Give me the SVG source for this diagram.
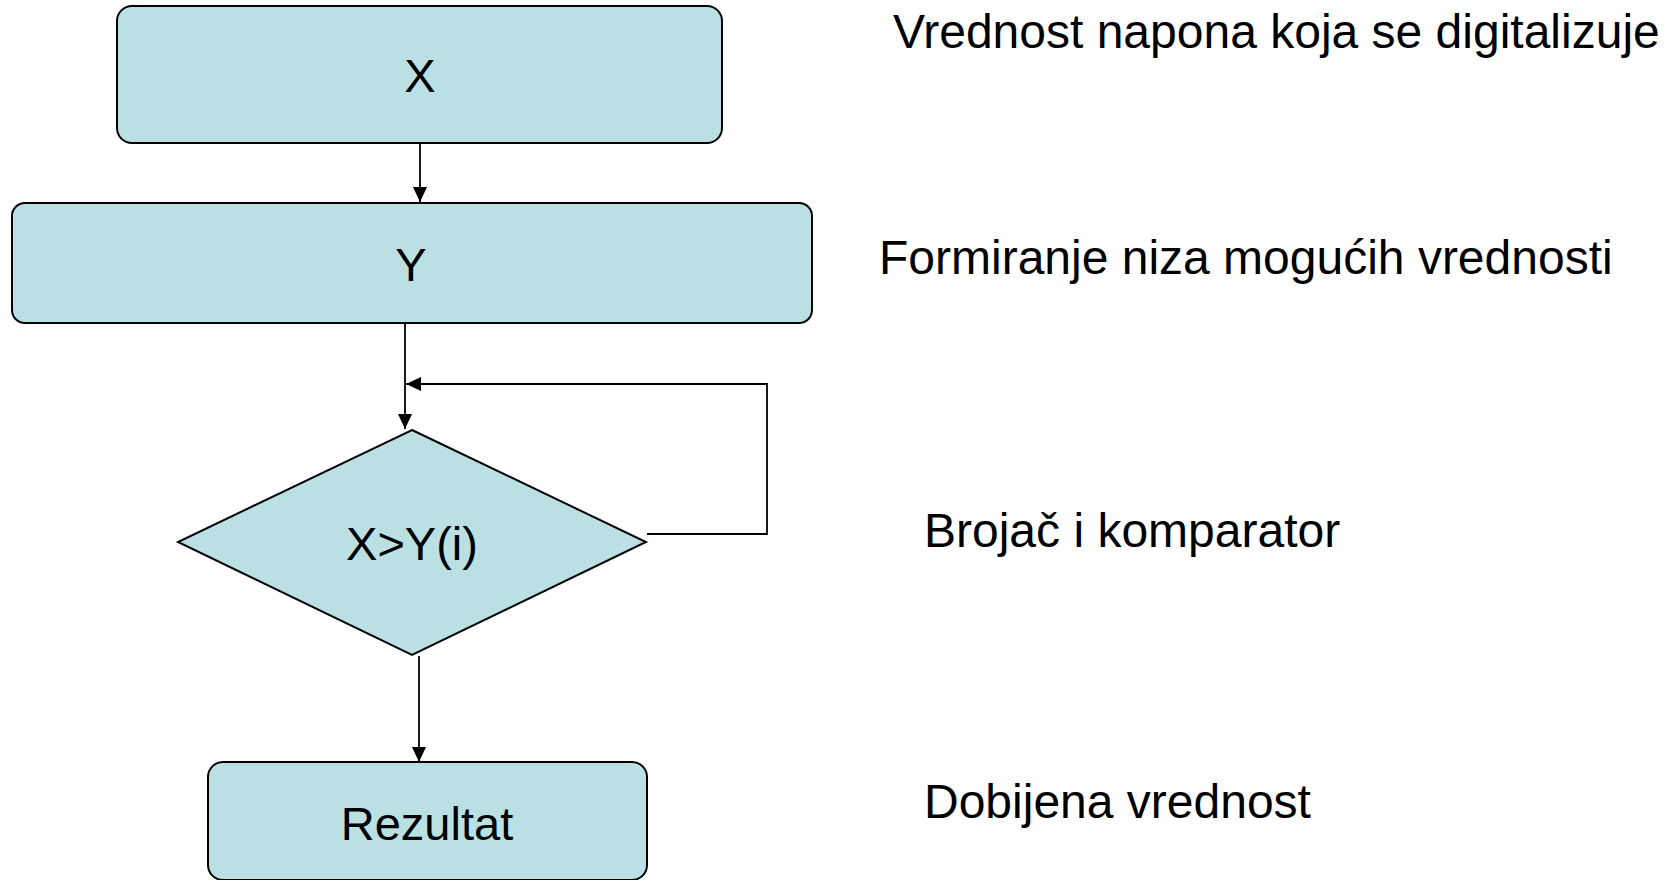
<svg xmlns="http://www.w3.org/2000/svg" width="1673" height="880" viewBox="0 0 1673 880">
<style>
.node{fill:#BBE0E3;stroke:#000;stroke-width:2}
.lbl{font-family:"Liberation Sans",Arial,sans-serif;font-size:47px;fill:#000;text-anchor:middle}
.note{font-family:"Liberation Sans",Arial,sans-serif;font-size:48px;fill:#000}
.conn{fill:none;stroke:#000;stroke-width:1.8}
</style>
<defs>
<marker id="arr" markerUnits="userSpaceOnUse" markerWidth="16" markerHeight="14" refX="15" refY="7" orient="auto">
<path d="M0,0 L15,7 L0,14 Z" fill="#000"/>
</marker>
</defs>
<rect width="1673" height="880" fill="#fff"/>
<g id="connectors">
<line class="conn" x1="420" y1="143" x2="420" y2="202" marker-end="url(#arr)"/>
<line class="conn" x1="405" y1="323" x2="405" y2="429" marker-end="url(#arr)"/>
<polyline class="conn" points="647,534 767,534 767,384 406,384" marker-end="url(#arr)"/>
<line class="conn" x1="419" y1="656" x2="419" y2="762" marker-end="url(#arr)"/>
</g>
<g id="nodeX">
<rect class="node" x="117" y="6" width="605" height="137" rx="15"/>
<text class="lbl" x="420" y="92">X</text>
</g>
<g id="nodeY">
<rect class="node" x="12" y="203" width="800" height="120" rx="13"/>
<text class="lbl" x="411" y="281">Y</text>
</g>
<g id="nodeCmp">
<polygon class="node" points="412,430 646,542 412,655 178,542"/>
<text class="lbl" x="412" y="560">X&gt;Y(i)</text>
</g>
<g id="nodeRez">
<rect class="node" x="208" y="762" width="439" height="118" rx="15"/>
<text class="lbl" x="427" y="840">Rezultat</text>
</g>
<g id="notes">
<text class="note" x="893" y="48">Vrednost napona koja se digitalizuje</text>
<text class="note" x="879" y="274">Formiranje niza mogućih vrednosti</text>
<text class="note" x="924" y="547">Brojač i komparator</text>
<text class="note" x="924" y="818">Dobijena vrednost</text>
</g>
</svg>
